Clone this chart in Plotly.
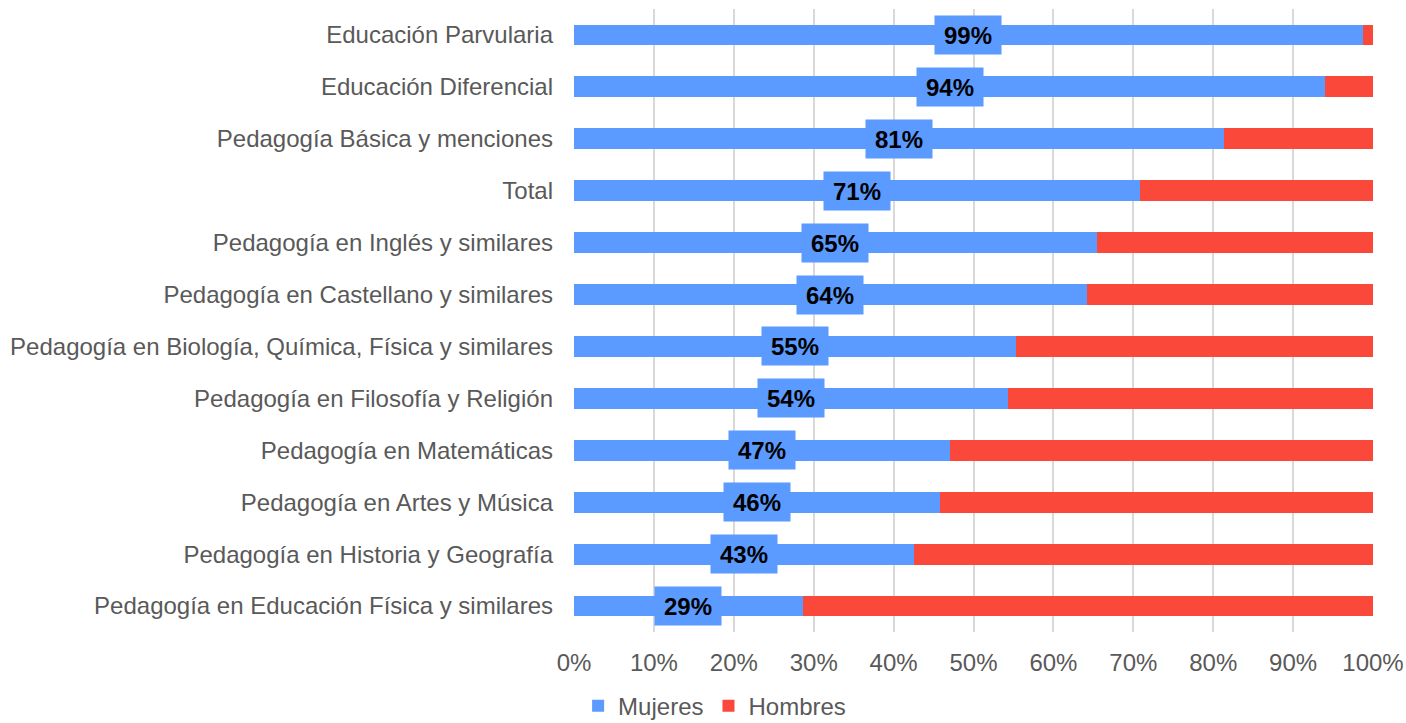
import plotly.graph_objects as go

categories = [
    "Educación Parvularia",
    "Educación Diferencial",
    "Pedagogía Básica y menciones",
    "Total",
    "Pedagogía en Inglés y similares",
    "Pedagogía en Castellano y similares",
    "Pedagogía en Biología, Química, Física y similares",
    "Pedagogía en Filosofía y Religión",
    "Pedagogía en Matemáticas",
    "Pedagogía en Artes y Música",
    "Pedagogía en Historia y Geografía",
    "Pedagogía en Educación Física y similares",
]
mujeres = [98.7, 94.0, 81.4, 70.8, 65.4, 64.2, 55.3, 54.3, 47.1, 45.8, 42.6, 28.6]
hombres = [1.3, 6.0, 18.6, 29.2, 34.6, 35.8, 44.7, 45.7, 52.9, 54.2, 57.4, 71.4]
x_ticks = [0, 10, 20, 30, 40, 50, 60, 70, 80, 90, 100]
x_tick_labels = ["0%", "10%", "20%", "30%", "40%", "50%", "60%", "70%", "80%", "90%", "100%"]

BLUE = "#5B9AFF"
RED = "#FA483B"
GREY = "#595959"
FONT = "Liberation Sans, Arial, sans-serif"

fig = go.Figure()
fig.add_trace(go.Bar(y=categories, x=mujeres, name="Mujeres", orientation="h",
                     marker=dict(color=BLUE, line=dict(width=0)), hoverinfo="x+y"))
fig.add_trace(go.Bar(y=categories, x=hombres, name="Hombres", orientation="h",
                     marker=dict(color=RED, line=dict(width=0)), hoverinfo="x+y"))

for c, v in zip(categories, mujeres):
    fig.add_annotation(x=v / 2, y=c, xref="x", yref="y", text=f"<b>{round(v)}%</b>",
                       showarrow=False, bgcolor=BLUE, width=64, height=36,
                       font=dict(family=FONT, size=24, color="#000000"))

fig.update_layout(
    barmode="stack",
    bargap=0.6,
    width=1406, height=723,
    margin=dict(l=574, r=33, t=9, b=91, autoexpand=False),
    paper_bgcolor="white", plot_bgcolor="white",
    font=dict(family=FONT, size=24, color=GREY),
    showlegend=True,
    legend=dict(orientation="h", xref="paper", yref="paper",
                x=0.176, xanchor="center", y=-0.119, yanchor="middle",
                font=dict(size=24, color=GREY), itemwidth=30,
                traceorder="normal", tracegroupgap=0),
    xaxis=dict(range=[0, 100], tickmode="array", tickvals=x_ticks, ticktext=x_tick_labels,
               showgrid=True, gridcolor="#D9D9D9", gridwidth=2, automargin=False,
               zeroline=False, showline=False, ticks="", ticklabelstandoff=14,
               tickfont=dict(size=24, color=GREY)),
    yaxis=dict(categoryorder="array", categoryarray=categories, autorange="reversed",
               showgrid=False, zeroline=False, showline=False, ticks="", automargin=False,
               ticklabelstandoff=20, tickfont=dict(size=24, color=GREY)),
)

fig.write_html("out.html", config={"displayModeBar": False},
               post_script="document.body.style.margin='0';document.body.style.padding='0';")
